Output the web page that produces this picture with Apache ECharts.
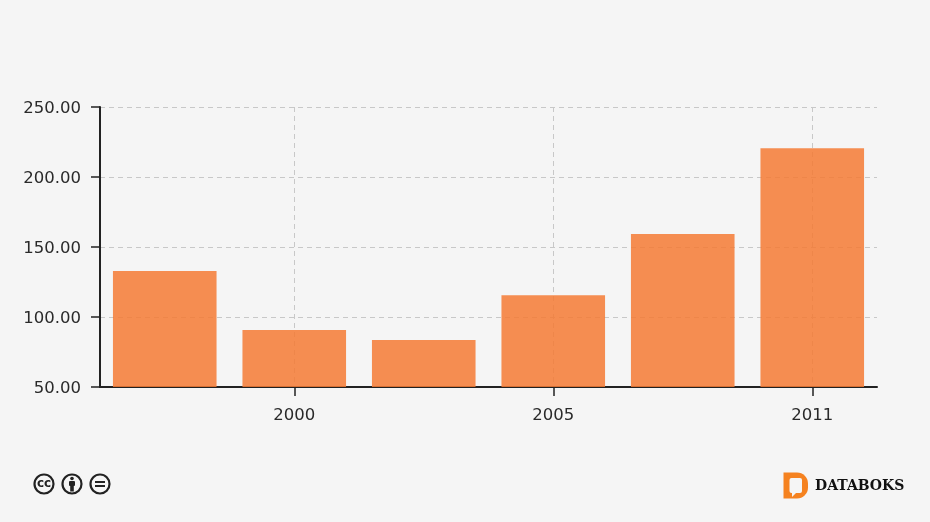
<!DOCTYPE html>
<html><head><meta charset="utf-8">
<style>html,body{margin:0;padding:0;background:#f5f5f5}#c{width:930px;height:522px}</style>
<script src="https://cdn.jsdelivr.net/npm/echarts@6/dist/echarts.min.js"></script>
</head><body><div id="c"></div>
<script>
const categories = ['1998','2000','2003','2005','2008','2011'];
const shownLabels = ['2000','2005','2011'];
const values = [132.8, 90.7, 83.5, 115.6, 159.3, 220.6];
const yTicks = {min:50, max:250, interval:50};
const showIdx = i => shownLabels.includes(categories[i]);
const ink = '#2a2a2a';
const font = '"DejaVu Sans", Verdana, sans-serif';
const ccIcon = (cx, kids) => ({type:'group', x:cx, y:484, children:[
  {type:'circle', shape:{cx:0,cy:0,r:9.5}, style:{fill:'#f5f5f5', stroke:'#222', lineWidth:2.2}},
  ...kids]});
const chart = echarts.init(document.getElementById('c'), null, {renderer:'canvas'});
chart.setOption({
  animation:false,
  backgroundColor:'#f5f5f5',
  grid:{left:100, right:53, top:107, bottom:135, containLabel:false},
  xAxis:{type:'category', data:categories,
    axisLine:{onZero:false, lineStyle:{color:'#222', width:2}},
    axisTick:{show:true, alignWithLabel:true, length:9, interval:showIdx, lineStyle:{color:'#222', width:1.5}},
    axisLabel:{interval:showIdx, color:ink, fontFamily:font, fontSize:16.5, margin:20},
    splitLine:{show:true, alignWithLabel:true, interval:showIdx, lineStyle:{color:'#c8c8c8', type:[5,4], width:1}}
  },
  yAxis:{type:'value', min:yTicks.min, max:yTicks.max, interval:yTicks.interval,
    axisLine:{show:true, lineStyle:{color:'#222', width:2}},
    axisTick:{show:true, length:9, lineStyle:{color:'#222', width:1.5}},
    axisLabel:{color:ink, fontFamily:font, fontSize:16.5, margin:19,
      formatter:v=>'{v|'+v.toFixed(2)+'}',
      rich:{v:{color:ink, fontFamily:font, fontSize:16.5, padding:[3,0,0,0]}}},
    splitLine:{show:true, lineStyle:{color:'#c8c8c8', type:[5,4], width:1}}
  },
  series:[{type:'bar', data:values, barWidth:'80%', z:5,
    itemStyle:{color:'#f47b36', opacity:0.86}}],
  graphic:[
    ccIcon(44,[{type:'text', x:0, y:0, style:{text:'cc', fill:'#222', font:'bold 12px "DejaVu Sans"', align:'center', verticalAlign:'middle'}}]),
    ccIcon(72,[
      {type:'circle', shape:{cx:0,cy:-5.5,r:1.8}, style:{fill:'#222'}},
      {type:'rect', shape:{x:-3,y:-3,width:6,height:5,r:1}, style:{fill:'#222'}},
      {type:'rect', shape:{x:-1.8,y:1,width:3.6,height:6.5}, style:{fill:'#222'}}]),
    ccIcon(100,[
      {type:'rect', shape:{x:-5,y:-3,width:10,height:2}, style:{fill:'#222'}},
      {type:'rect', shape:{x:-5,y:1,width:10,height:2}, style:{fill:'#222'}}]),
    {type:'rect', shape:{x:783.5,y:472.5,width:24.5,height:26,r:[0,11,11,0]}, style:{fill:'#f58220'}},
    {type:'rect', shape:{x:789.5,y:478,width:12.5,height:15,r:2}, style:{fill:'#f5f5f5'}},
    {type:'polygon', shape:{points:[[792,492],[792,497],[797,492]]}, style:{fill:'#f5f5f5'}},
    {type:'text', x:815, y:486, style:{text:'DATABOKS', fill:'#111', font:'bold 14px "DejaVu Serif"', verticalAlign:'middle'}}
  ]
});
</script></body></html>
